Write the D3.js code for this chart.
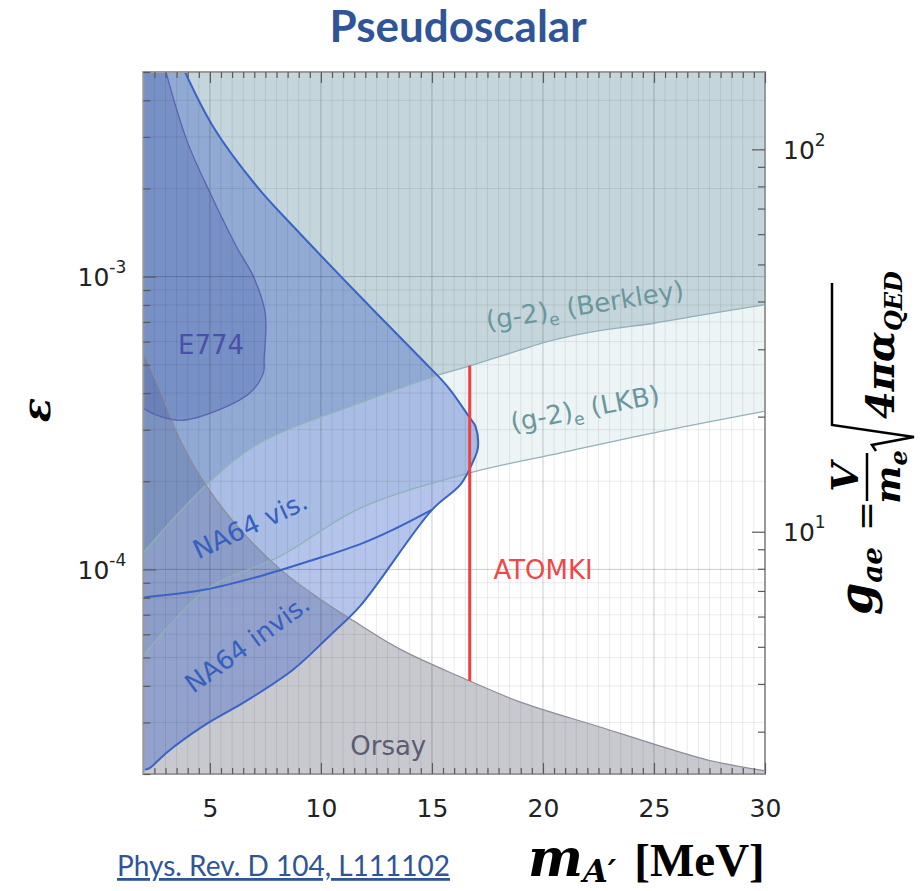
<!DOCTYPE html>
<html>
<head>
<meta charset="utf-8">
<script src="https://cdn.jsdelivr.net/npm/d3@7/dist/d3.min.js"></script>
<style>
  body { margin: 0; background: #fff; }
  svg { display: block; }
</style>
</head>
<body>
<svg id="chart" width="923" height="891"></svg>
<script>
// ---- data (mass in MeV, epsilon) ----
const massDomain = [2, 30];
const epsDomain = [2e-5, 5e-3];
const gDomain = [2.325, 159.3];

const massTicks = [5, 10, 15, 20, 25, 30];
const epsMajorTicks = [1e-4, 1e-3];
const epsTickLabels = ["-4", "-3"];
const gMajorTicks = [10, 100];
const gTickLabels = ["1", "2"];

const berkleyMass = [2.0, 4.86, 7.26, 11.77, 14.93, 16.74, 18.99, 20.2, 22.28, 24.99, 26.79, 30];
const berkleyEps  = [1.14e-4, 1.95e-4, 2.71e-4, 3.71e-4, 4.52e-4, 4.97e-4, 5.62e-4, 6.0e-4, 6.49e-4, 6.93e-4, 7.31e-4, 8.02e-4];

const lkbMass = [2.0, 4.86, 8.17, 11.77, 16.74, 20.8, 25.31, 30];
const lkbEps  = [5.06e-5, 8.55e-5, 1.11e-4, 1.62e-4, 2.14e-4, 2.5e-4, 2.96e-4, 3.47e-4];

const orsayMass = [2.0, 2.75, 3.66, 4.86, 6.36, 8.17, 9.97, 11.47, 13.58, 16.29, 18.99, 22.6, 25.0, 27.56, 30];
const orsayEps  = [5.53e-4, 4.11e-4, 2.77e-4, 1.92e-4, 1.37e-4, 1.0e-4, 7.91e-5, 6.67e-5, 5.33e-5, 4.29e-5, 3.52e-5, 2.89e-5, 2.53e-5, 2.22e-5, 2.05e-5];

// NA64 invisible outline: from the top edge, round the nose, back down to the bottom-left
const na64Mass = [3.88, 5.16, 7.12, 8.77, 11.77, 14.48, 15.74, 16.66, 16.96, 17.07, 16.89, 16.29, 15.01, 11.77, 10.42, 8.77, 6.66, 4.71, 3.06, 2.3, 2.08];
const na64Eps  = [5.0e-3, 3.24e-3, 2.03e-3, 1.48e-3, 8.55e-4, 5.27e-4, 4.18e-4, 3.33e-4, 3.08e-4, 2.6e-4, 2.37e-4, 1.95e-4, 1.6e-4, 7.5e-5, 5.96e-5, 4.56e-5, 3.56e-5, 2.92e-5, 2.37e-5, 2.1e-5, 2.07e-5];

const na64VisMass = [2.0, 4.86, 7.26, 9.52, 11.77, 13.28, 15.01];
const na64VisEps  = [8.02e-5, 8.55e-5, 9.48e-5, 1.07e-4, 1.22e-4, 1.37e-4, 1.6e-4];

const e774Mass = [3.02, 3.96, 5.01, 6.21, 6.96, 7.49, 7.44, 7.41, 6.81, 5.46, 3.73, 2.75, 2.08, 2.0];
const e774Eps  = [5.0e-3, 2.92e-3, 1.93e-3, 1.26e-3, 1.0e-3, 7.5e-4, 5.2e-4, 4.7e-4, 4.01e-4, 3.52e-4, 3.23e-4, 3.33e-4, 3.52e-4, 3.56e-4];

const atomkiMass = 16.7;
const atomkiEps = [4.16e-5, 4.97e-4];

// ---- layout ----
const svg = d3.select("#chart");
const L = 143.3, R = 765, T = 72, B = 774;

const x = d3.scaleLinear().domain(massDomain).range([L, R]);
const y = d3.scaleLog().domain(epsDomain).range([B, T]);
const yR = d3.scaleLog().domain(gDomain).range([B, T]);

svg.append("clipPath").attr("id", "plotClip")
  .append("rect").attr("x", L).attr("y", T).attr("width", R - L).attr("height", B - T);

const plot = svg.append("g").attr("clip-path", "url(#plotClip)");

const smooth = d3.curveCatmullRom.alpha(0.5);
const pts = (m, e) => d3.zip(m, e);
const line = d3.line().x(d => x(d[0])).y(d => y(d[1])).curve(smooth);
const areaAbove = d3.area().x(d => x(d[0])).y0(d => y(d[1])).y1(T).curve(smooth);
const areaBelow = d3.area().x(d => x(d[0])).y0(B).y1(d => y(d[1])).curve(smooth);
// closes an outline along the left edge of the plot
const closeLeft = (lo, hi) => `L${x(massDomain[0])},${y(lo)}L${x(massDomain[0])},${y(hi)}Z`;

// (g-2)e LKB and Berkley bands
plot.append("path").attr("d", areaAbove(pts(lkbMass, lkbEps))).attr("fill", "#edf4f5");
plot.append("path").attr("d", areaAbove(pts(berkleyMass, berkleyEps))).attr("fill", "#c4d6db");

// Orsay
plot.append("path").attr("d", areaBelow(pts(orsayMass, orsayEps)))
  .attr("fill", "rgb(110,110,130)").attr("fill-opacity", 0.38);

// NA64
plot.append("path")
  .attr("d", line(pts(na64Mass, na64Eps)) + closeLeft(epsDomain[0], epsDomain[1]))
  .attr("fill", "rgb(60,100,200)").attr("fill-opacity", 0.38);

// E774
plot.append("path")
  .attr("d", line(pts(e774Mass, e774Eps)) + closeLeft(e774Eps[e774Eps.length - 1], epsDomain[1]))
  .attr("fill", "rgb(70,90,170)").attr("fill-opacity", 0.33);

// grid
const minorMass = d3.range(2.5, 30, 0.5);
const epsGrid = [];
for (let p = -5; p <= -3; p++) for (let k = 1; k <= 9; k++) {
  const v = k * Math.pow(10, p);
  if (v >= epsDomain[0] && v <= epsDomain[1]) epsGrid.push(v);
}
const isMajorMass = m => Math.abs(m % 5) < 1e-9;
const isMajorEps = v => Math.abs(Math.log10(v) - Math.round(Math.log10(v))) < 1e-9;

plot.append("g").selectAll("line").data(minorMass).join("line")
  .attr("x1", d => x(d)).attr("x2", d => x(d)).attr("y1", T).attr("y2", B)
  .attr("stroke", d => isMajorMass(d) ? "rgba(0,0,0,0.2)" : "rgba(0,0,0,0.08)")
  .attr("stroke-width", 1);
plot.append("g").selectAll("line").data(epsGrid).join("line")
  .attr("x1", L).attr("x2", R).attr("y1", d => y(d)).attr("y2", d => y(d))
  .attr("stroke", d => isMajorEps(d) ? "rgba(0,0,0,0.2)" : "rgba(0,0,0,0.08)")
  .attr("stroke-width", 1);

// boundary lines
plot.append("path").attr("d", line(pts(lkbMass, lkbEps))).attr("fill", "none")
  .attr("stroke", "#8fb1b8").attr("stroke-width", 1.3);
plot.append("path").attr("d", line(pts(berkleyMass, berkleyEps))).attr("fill", "none")
  .attr("stroke", "#8fb1b8").attr("stroke-width", 1.3);
plot.append("path").attr("d", line(pts(orsayMass, orsayEps))).attr("fill", "none")
  .attr("stroke", "#8c8c9c").attr("stroke-width", 1.2);
plot.append("path").attr("d", line(pts(e774Mass, e774Eps))).attr("fill", "none")
  .attr("stroke", "#5a62b4").attr("stroke-width", 1.3);
plot.append("path").attr("d", line(pts(na64Mass, na64Eps))).attr("fill", "none")
  .attr("stroke", "#3a63c6").attr("stroke-width", 2);
plot.append("path").attr("d", line(pts(na64VisMass, na64VisEps))).attr("fill", "none")
  .attr("stroke", "#3a63c6").attr("stroke-width", 2);

// ATOMKI
plot.append("line")
  .attr("x1", x(atomkiMass)).attr("x2", x(atomkiMass))
  .attr("y1", y(atomkiEps[0])).attr("y2", y(atomkiEps[1]))
  .attr("stroke", "#f2403f").attr("stroke-width", 3);

// in-plot labels
const labelFont = "'DejaVu Sans', Verdana, sans-serif";
function plotLabel(m, e, angle, color, parts) {
  const t = svg.append("text")
    .attr("transform", `translate(${x(m)},${y(e)}) rotate(${angle})`)
    .attr("font-family", labelFont).attr("font-size", 26).attr("fill", color);
  parts.forEach(p => {
    const s = t.append("tspan").text(p.t);
    if (p.sub) s.attr("font-size", 17).attr("dy", 6);
    if (p.back) s.attr("dy", -6);
  });
  return t;
}
plotLabel(17.5, 6.58e-4, -9, "#6a979e", [{t: "(g-2)"}, {t: "e", sub: true}, {t: " (Berkley)", back: true}]);
plotLabel(18.63, 2.95e-4, -11, "#6a979e", [{t: "(g-2)"}, {t: "e", sub: true}, {t: " (LKB)", back: true}]);
plotLabel(17.77, 9.25e-5, 0, "#f04848", [{t: "ATOMKI"}]);
plotLabel(4.48, 1.08e-4, -25, "#3560c0", [{t: "NA64 vis."}]);
plotLabel(4.25, 3.75e-5, -36, "#3560c0", [{t: "NA64 invis."}]);
plotLabel(11.32, 2.32e-5, 0, "#5c5c72", [{t: "Orsay"}]);
plotLabel(3.565, 5.45e-4, 0, "#4a4fa8", [{t: "E774"}]);

// frame
svg.append("rect").attr("x", L).attr("y", T).attr("width", R - L).attr("height", B - T)
  .attr("fill", "none").attr("stroke", "#9a9a9a").attr("stroke-width", 2);

// axes
const tickColor = "#5a5a5a";
function styleAxis(g) {
  g.select(".domain").remove();
  g.selectAll(".tick line").attr("stroke", tickColor).attr("stroke-width", 1.2);
  g.selectAll(".tick text").attr("font-family", labelFont).attr("font-size", 25).attr("fill", "#222");
}
const minorNoLabel = minorMass.filter(d => !isMajorMass(d));
svg.append("g").attr("transform", `translate(0,${B})`)
  .call(d3.axisBottom(x).tickValues(minorNoLabel).tickSize(-6).tickFormat(""))
  .call(styleAxis);
svg.append("g").attr("transform", `translate(0,${B})`)
  .call(d3.axisBottom(x).tickValues(massTicks).tickSize(-11).tickPadding(25).tickFormat(d3.format("d")))
  .call(styleAxis);
svg.append("g").attr("transform", `translate(0,${T})`)
  .call(d3.axisTop(x).tickValues(minorNoLabel).tickSize(-6).tickFormat(""))
  .call(styleAxis);
svg.append("g").attr("transform", `translate(0,${T})`)
  .call(d3.axisTop(x).tickValues(massTicks).tickSize(-11).tickFormat(""))
  .call(styleAxis);

svg.append("g").attr("transform", `translate(${L},0)`)
  .call(d3.axisLeft(y).tickValues(epsGrid.filter(d => !isMajorEps(d))).tickSize(-7).tickFormat(""))
  .call(styleAxis);
const leftMajor = svg.append("g").attr("transform", `translate(${L},0)`)
  .call(d3.axisLeft(y).tickValues(epsMajorTicks).tickSize(-13).tickPadding(17).tickFormat(""))
  .call(styleAxis);
leftMajor.selectAll(".tick text").each(function(d, i) {
  const t = d3.select(this).attr("dy", "0.35em");
  t.append("tspan").text("10");
  t.append("tspan").text(epsTickLabels[i]).attr("font-size", 17).attr("dy", "-0.75em");
});

// right axis (g_ae)
const gMinor = [];
for (let p = 0; p <= 2; p++) for (let k = 2; k <= 9; k++) {
  const v = k * Math.pow(10, p);
  if (v >= gDomain[0] && v <= gDomain[1]) gMinor.push(v);
}
svg.append("g").attr("transform", `translate(${R},0)`)
  .call(d3.axisRight(yR).tickValues(gMinor).tickSize(-7).tickFormat(""))
  .call(styleAxis);
const rightMajor = svg.append("g").attr("transform", `translate(${R},0)`)
  .call(d3.axisRight(yR).tickValues(gMajorTicks).tickSize(-13).tickPadding(18).tickFormat(""))
  .call(styleAxis);
rightMajor.selectAll(".tick text").each(function(d, i) {
  const t = d3.select(this).attr("dy", "0.35em");
  t.append("tspan").text("10");
  t.append("tspan").text(gTickLabels[i]).attr("font-size", 17).attr("dy", "-0.75em");
});

// title
svg.append("text").attr("x", 458).attr("y", 42).attr("text-anchor", "middle")
  .attr("font-family", "Lato, 'Open Sans', sans-serif").attr("font-weight", 700)
  .attr("font-size", 44).attr("fill", "#2f5597").text("Pseudoscalar");

// left axis title: epsilon, rotated
svg.append("text").attr("transform", "translate(50,410) rotate(-90)")
  .attr("text-anchor", "middle")
  .attr("font-family", "'DejaVu Serif', serif").attr("font-weight", 700).attr("font-style", "italic")
  .attr("font-size", 40).attr("fill", "#000").text("ε");

// x axis title
const xt = svg.append("text").attr("x", 528).attr("y", 876)
  .attr("font-weight", 700).attr("fill", "#000");
xt.append("tspan").text("m").attr("font-family", "'DejaVu Serif', serif")
  .attr("font-style", "italic").attr("font-size", 52);
xt.append("tspan").text("A′").attr("font-family", "'DejaVu Serif', serif")
  .attr("font-style", "italic").attr("font-size", 32).attr("dy", 6);
xt.append("tspan").text("[MeV]").attr("font-family", "'Liberation Serif', serif")
  .attr("font-size", 47).attr("dy", -6).attr("dx", 18);

// reference
svg.append("text").attr("x", 117).attr("y", 876)
  .attr("font-family", "Lato, 'Open Sans', sans-serif").attr("font-size", 28)
  .attr("fill", "#2f5597").attr("text-decoration", "underline")
  .text("Phys. Rev. D 104, L111102");

// right axis title: g_ae = V/m_e sqrt(4 pi alpha_QED), rotated
const serif = "'DejaVu Serif', serif";
const rg = svg.append("g").attr("transform", "translate(872,615) rotate(-90)")
  .attr("font-family", serif).attr("font-weight", 700).attr("fill", "#000");
const g1 = rg.append("text").attr("x", 0).attr("y", 0).attr("font-style", "italic");
g1.append("tspan").text("g").attr("font-size", 46);
g1.append("tspan").text("ae").attr("font-size", 28).attr("dy", 10);
rg.append("text").attr("x", 84).attr("y", 6).attr("font-size", 36).attr("font-weight", 400).text("=");
rg.append("text").attr("x", 138).attr("y", -14).attr("text-anchor", "middle")
  .attr("font-style", "italic").attr("font-size", 38).text("V");
rg.append("line").attr("x1", 114).attr("x2", 162).attr("y1", -5).attr("y2", -5)
  .attr("stroke", "#000").attr("stroke-width", 2.5);
const me = rg.append("text").attr("x", 138).attr("y", 28).attr("text-anchor", "middle").attr("font-style", "italic");
me.append("tspan").text("m").attr("font-size", 36);
me.append("tspan").text("e").attr("font-size", 24).attr("dy", 7);
rg.append("path")
  .attr("d", "M164,4 L170,0 L178,42 L190,-40 L332,-40")
  .attr("fill", "none").attr("stroke", "#000").attr("stroke-width", 2.5);
const rad = rg.append("text").attr("x", 196).attr("y", 22).attr("font-style", "italic");
rad.append("tspan").text("4πα").attr("font-size", 40);
rad.append("tspan").text("QED").attr("font-size", 24).attr("dy", 8);
</script>
</body>
</html>
